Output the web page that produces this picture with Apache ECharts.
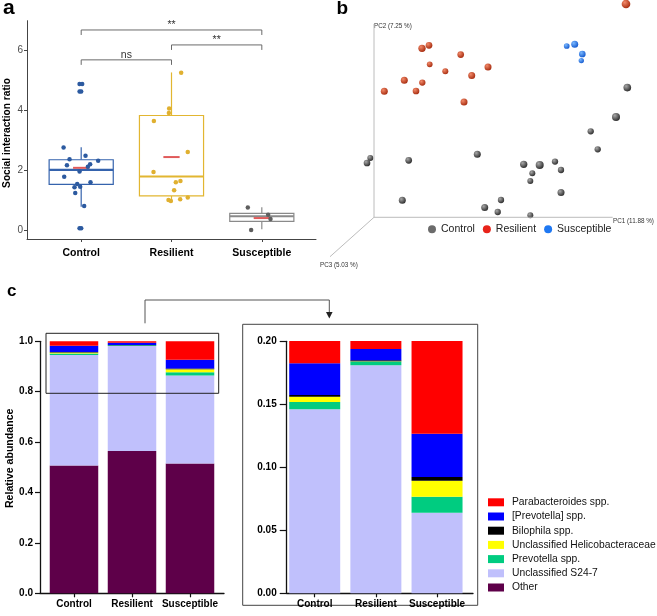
<!DOCTYPE html>
<html><head><meta charset="utf-8">
<script src="https://cdn.jsdelivr.net/npm/echarts@6/dist/echarts.min.js"></script>
<style>html,body{margin:0;padding:0;background:#fff}#c{width:657px;height:616px}</style>
</head><body><div id="c"></div>
<script>
// ---------- shared ----------
const groups = ['Control', 'Resilient', 'Susceptible'];

// ---------- panel a: social interaction ratio ----------
const boxMin    = [0.78, 1.00, 0.03];
const boxQ1     = [1.53, 1.14, 0.29];
const boxMedian = [2.01, 1.79, 0.46];
const boxQ3     = [2.35, 3.83, 0.56];
const boxMax    = [2.77, 5.27, 0.76];
const groupMean = [2.08, 2.44, 0.40];
// [jitter offset from group centre, value]
const controlPoints = [[-0.018,4.88],[0.011,4.88],[-0.018,4.63],[0,4.63],[-0.195,2.76],[-0.129,2.37],[0.048,2.48],[0.188,2.32],[-0.158,2.17],[0.099,2.20],[0.074,2.12],[-0.018,1.96],[-0.188,1.78],[-0.044,1.54],[-0.011,1.45],[-0.074,1.43],[0.103,1.60],[-0.066,1.24],[0.033,0.80],[-0.018,0.06],[0,0.06]];
const resilientPoints = [[0.107,5.26],[-0.026,4.06],[-0.029,3.91],[-0.195,3.65],[0.18,2.61],[-0.199,1.94],[0.048,1.60],[0.099,1.64],[0.029,1.33],[-0.033,1.00],[-0.007,0.97],[0.096,1.03],[0.18,1.09]];
const susceptiblePoints = [[-0.155,0.75],[0.07,0.51],[0.096,0.37],[-0.118,0.0]];
const comparisons = [[1,2,5.69,'ns'],[2,3,6.19,'**'],[1,3,6.69,'**']];
const yTicksA = [0, 2, 4, 6];

// ---------- panel b: PCoA (projected coordinates, [x, y, depth]) ----------
const pcaControl = [[253.3,129.7,.67],[242,100.3,.75],[216.7,86,.33],[223.7,68,.33],[103.3,63,.5],[149.7,53,.58],[165.7,52.3,.75],[181,55.7,.33],[187,47.3,.33],[158.3,44,.25],[156.3,36.3,.25],[187,24.7,.5],[127,17.3,.33],[110.7,9.7,.5],[123.7,5.3,.33],[156.3,2,.25],[34.7,57,.42],[-3.7,59.3,.25],[-7,54.3,.42],[28.3,17,.5]];
const pcaResilient = [[252,213.3,.92],[48,169,.58],[55,172,.42],[86.7,162.7,.42],[55.7,153,.18],[71.3,146,.25],[114,150.3,.5],[97.7,141.7,.5],[30.3,137,.5],[48.3,134.7,.33],[10.3,126,.5],[42,126.3,.42],[90,115.3,.5]];
const pcaSusceptible = [[192.7,171.3,.18],[200.7,173,.5],[208.3,163.3,.42],[207.3,156.7,.08]];
const pc1AxisEnd = [238.7, 0];
const pc2AxisEnd = [0, 193.3];
const pc3AxisEnd = [-44, -39.4];
const pcLabels = ['PC1 (11.88 %)', 'PC2 (7.25 %)', 'PC3 (5.03 %)'];

// ---------- panel c: relative abundance ----------
const taxa = ['Parabacteroides spp.', '[Prevotella] spp.', 'Bilophila spp.', 'Unclassified Helicobacteraceae', 'Prevotella spp.', 'Unclassified S24-7', 'Other'];
const parabacteroides = [0.0177, 0.0063, 0.0735];
const prevotellaBr    = [0.0252, 0.0090, 0.0344];
const bilophila       = [0.0013, 0.0008, 0.0029];
const helicobacter    = [0.0042, 0.0002, 0.0127];
const prevotella      = [0.0058, 0.0029, 0.0127];
const s247            = [0.439, 0.416, 0.349];
const other           = [0.507, 0.565, 0.515];
const zoomOffset = 0.8;

// ---------- styles ----------
const FONT = 'Liberation Sans, Arial, Helvetica, sans-serif';
const groupBoxColors = ['#3563ad', '#e2b631', '#8a8a8a'];
const groupPointColors = ['#2c5aa0', '#e0b030', '#5e5e5e'];
const taxaColors = ['#ff0000', '#0000ff', '#000000', '#ffff00', '#00cc80', '#c0c0fc', '#5e0049'];

function sphere(light, dark) {
  return {type: 'radial', x: 0.35, y: 0.32, r: 0.75, colorStops: [{offset: 0, color: light}, {offset: 1, color: dark}]};
}

// ---------- build panel c stacks (bottom -> top) ----------
const stackOrder = [other, s247, prevotella, helicobacter, bilophila, prevotellaBr, parabacteroides];
const stackNames = [taxa[6], taxa[5], taxa[4], taxa[3], taxa[2], taxa[1], taxa[0]];
const stackColors = [taxaColors[6], taxaColors[5], taxaColors[4], taxaColors[3], taxaColors[2], taxaColors[1], taxaColors[0]];
const cum = [0, 0, 0];
const stacked = stackOrder.map(arr => arr.map((v, i) => { const b = cum[i]; cum[i] += v; return [i + 1, b, cum[i]]; }));

function barRenderer(widthPx, offset) {
  return function (params, api) {
    const x = api.value(0);
    let b = api.value(1) - offset, t = api.value(2) - offset;
    if (t <= 0) return null;
    b = Math.max(b, 0);
    const p0 = api.coord([x, b]);
    const p1 = api.coord([x, t]);
    return {type: 'rect', shape: {x: p0[0] - widthPx / 2, y: p1[1], width: widthPx, height: p0[1] - p1[1]}, style: {fill: api.visual('color')}};
  };
}

const series = [];

// panel a boxes
series.push({
  type: 'custom', name: 'a-box', xAxisIndex: 0, yAxisIndex: 0, silent: true,
  data: groups.map((g, i) => [i + 1, boxMin[i], boxQ1[i], boxMedian[i], boxQ3[i], boxMax[i]]),
  encode: {x: 0, y: [1, 5]},
  renderItem(params, api) {
    const col = groupBoxColors[params.dataIndex];
    const x = api.value(0), hw = 0.355;
    const tl = api.coord([x - hw, api.value(4)]);
    const br = api.coord([x + hw, api.value(2)]);
    const med = api.coord([x, api.value(3)]);
    const lo = api.coord([x, api.value(1)]);
    const hi = api.coord([x, api.value(5)]);
    return {type: 'group', children: [
      {type: 'line', shape: {x1: hi[0], y1: hi[1], x2: hi[0], y2: tl[1]}, style: {stroke: col, lineWidth: 1.2}},
      {type: 'line', shape: {x1: lo[0], y1: br[1], x2: lo[0], y2: lo[1]}, style: {stroke: col, lineWidth: 1.2}},
      {type: 'rect', shape: {x: tl[0], y: tl[1], width: br[0] - tl[0], height: br[1] - tl[1]}, style: {fill: '#fff', stroke: col, lineWidth: 1.2}},
      {type: 'line', shape: {x1: tl[0], y1: med[1], x2: br[0], y2: med[1]}, style: {stroke: col, lineWidth: 2.2}}
    ]};
  }
});
// panel a means
series.push({
  type: 'custom', name: 'a-mean', xAxisIndex: 0, yAxisIndex: 0, silent: true,
  data: groups.map((g, i) => [i + 1, groupMean[i]]),
  renderItem(params, api) {
    const l = api.coord([api.value(0) - 0.09, api.value(1)]);
    const r = api.coord([api.value(0) + 0.09, api.value(1)]);
    return {type: 'line', shape: {x1: l[0], y1: l[1], x2: r[0], y2: r[1]}, style: {stroke: '#e05a5a', lineWidth: 2}};
  }
});
// panel a points
[controlPoints, resilientPoints, susceptiblePoints].forEach((pts, gi) => {
  series.push({
    type: 'scatter', name: 'a-' + groups[gi], xAxisIndex: 0, yAxisIndex: 0, silent: true,
    symbolSize: 4.5, itemStyle: {color: groupPointColors[gi], opacity: 1},
    data: pts.map(p => [gi + 1 + p[0], p[1]])
  });
});
// panel a significance brackets
series.push({
  type: 'custom', name: 'a-sig', xAxisIndex: 0, yAxisIndex: 0, silent: true,
  data: comparisons.map(c => [c[0], c[1], c[2]]),
  renderItem(params, api) {
    const a = api.coord([api.value(0), api.value(2)]);
    const b = api.coord([api.value(1), api.value(2)]);
    const d = 5;
    const lbl = comparisons[params.dataIndex][3];
    return {type: 'group', children: [
      {type: 'polyline', shape: {points: [[a[0], a[1] + d], [a[0], a[1]], [b[0], b[1]], [b[0], b[1] + d]]}, style: {stroke: '#6a6a6a', fill: 'none', lineWidth: 1}},
      {type: 'text', x: (a[0] + b[0]) / 2, y: a[1] + 0.5, style: {text: lbl, align: 'center', verticalAlign: 'bottom', fontSize: 10.5, fontFamily: FONT, fill: '#333'}}
    ]};
  }
});

// panel b axes
[pc1AxisEnd, pc2AxisEnd, pc3AxisEnd].forEach(end => {
  series.push({
    type: 'line', name: 'b-axis', xAxisIndex: 1, yAxisIndex: 1, silent: true, symbol: 'none',
    lineStyle: {color: '#b4b4b4', width: 0.9}, data: [[0, 0], end]
  });
});
// panel b points
const pcaSets = [pcaControl, pcaResilient, pcaSusceptible];
const pcaLight = ['#a8a8a8', '#f28a6a', '#7ab8ff'];
const pcaDark = ['#262626', '#a3270a', '#0f55cc'];
pcaSets.forEach((pts, gi) => {
  series.push({
    type: 'scatter', name: groups[gi], xAxisIndex: 1, yAxisIndex: 1, silent: true, clip: false,
    symbolSize: v => 5 + 4 * v[2],
    itemStyle: {color: sphere(pcaLight[gi], pcaDark[gi]), opacity: 1},
    data: pts
  });
});

// panel c bars, left (full scale) and right (zoomed top)
stacked.forEach((data, k) => {
  series.push({
    type: 'custom', name: stackNames[k], xAxisIndex: 2, yAxisIndex: 2, silent: true,
    itemStyle: {color: stackColors[k]}, data: data, encode: {x: 0, y: [1, 2]},
    renderItem: barRenderer(48.5, 0)
  });
  series.push({
    type: 'custom', name: stackNames[k], xAxisIndex: 3, yAxisIndex: 3, silent: true,
    itemStyle: {color: stackColors[k]}, data: data, encode: {x: 0},
    renderItem: barRenderer(51, zoomOffset)
  });
});

const catAxisLabel = (fs, margin) => ({customValues: [1, 2, 3], formatter: v => groups[Math.round(v) - 1], fontWeight: 'bold', fontSize: fs, color: '#000', margin: margin, fontFamily: FONT});

const option = {
  animation: false,
  backgroundColor: '#fff',
  textStyle: {fontFamily: FONT},
  grid: [
    {left: 27, top: 20.7, width: 289, height: 218.3},
    {left: 320, top: 0, width: 337, height: 270},
    {left: 40, top: 341.3, width: 184, height: 252},
    {left: 286.7, top: 341.3, width: 186.3, height: 252}
  ],
  xAxis: [
    {gridIndex: 0, type: 'value', min: 0.4, max: 3.6,
      axisLine: {show: true, onZero: false, lineStyle: {color: '#444', width: 1}},
      axisTick: {show: true, length: 3, customValues: [1, 2, 3], lineStyle: {color: '#444'}},
      axisLabel: catAxisLabel(10.5, 9), splitLine: {show: false}},
    {gridIndex: 1, type: 'value', min: -54, max: 283, show: false},
    {gridIndex: 2, type: 'value', min: 0.414, max: 3.586,
      axisLine: {show: true, onZero: false, lineStyle: {color: '#111', width: 1.3}},
      axisTick: {show: true, length: 4, customValues: [1, 2, 3], lineStyle: {color: '#111', width: 1.2}},
      axisLabel: catAxisLabel(10, 6), splitLine: {show: false}},
    {gridIndex: 3, type: 'value', min: 0.542, max: 3.588,
      axisLine: {show: true, onZero: false, lineStyle: {color: '#111', width: 1.3}},
      axisTick: {show: true, length: 4, customValues: [1, 2, 3], lineStyle: {color: '#111', width: 1.2}},
      axisLabel: catAxisLabel(10, 6), splitLine: {show: false}}
  ],
  yAxis: [
    {gridIndex: 0, type: 'value', min: -0.3, max: 7,
      axisLine: {show: true, onZero: false, lineStyle: {color: '#444', width: 1}},
      axisTick: {show: true, length: 3, customValues: yTicksA, lineStyle: {color: '#444'}},
      axisLabel: {customValues: yTicksA, fontSize: 10, color: '#4d4d4d', margin: 4},
      splitLine: {show: false}},
    {gridIndex: 1, type: 'value', min: -52.7, max: 217.3, show: false},
    {gridIndex: 2, type: 'value', min: 0, max: 1, interval: 0.2,
      axisLine: {show: true, onZero: false, lineStyle: {color: '#111', width: 1.3}},
      axisTick: {show: true, length: 5, lineStyle: {color: '#111', width: 1.2}},
      axisLabel: {formatter: v => v.toFixed(1), fontWeight: 'bold', fontSize: 10, color: '#000', margin: 7},
      splitLine: {show: false}},
    {gridIndex: 3, type: 'value', min: 0, max: 0.2, interval: 0.05,
      axisLine: {show: true, onZero: false, lineStyle: {color: '#111', width: 1.3}},
      axisTick: {show: true, length: 7, lineStyle: {color: '#111', width: 1.2}},
      axisLabel: {formatter: v => v.toFixed(2), fontWeight: 'bold', fontSize: 10, color: '#000', margin: 10},
      splitLine: {show: false}}
  ],
  legend: [
    {left: 428, top: 223.3, padding: 0, itemWidth: 8, itemHeight: 8, itemGap: 8, icon: 'circle', selectedMode: false,
      textStyle: {fontSize: 10.5, lineHeight: 12, color: '#222', fontFamily: FONT},
      data: [
        {name: 'Control', itemStyle: {color: '#6b6b6b'}},
        {name: 'Resilient', itemStyle: {color: '#e8231a'}},
        {name: 'Susceptible', itemStyle: {color: '#1f78f2'}}
      ]},
    {left: 488, top: 495.3, padding: 0, orient: 'vertical', itemWidth: 16, itemHeight: 8, itemGap: 0.2, icon: 'rect', selectedMode: false,
      textStyle: {fontSize: 10.3, lineHeight: 14, color: '#111', fontFamily: FONT, padding: [0, 0, 0, 3]},
      data: taxa.map((t, i) => ({name: t, itemStyle: {color: taxaColors[i]}}))}
  ],
  graphic: [
    {type: 'text', x: 3, y: 8.2, style: {text: 'a', font: 'bold 21px ' + FONT, fill: '#000', verticalAlign: 'middle'}},
    {type: 'text', x: 336.5, y: 9.2, style: {text: 'b', font: 'bold 19px ' + FONT, fill: '#000', verticalAlign: 'middle'}},
    {type: 'text', x: 7, y: 291, style: {text: 'c', font: 'bold 17px ' + FONT, fill: '#000', verticalAlign: 'middle'}},
    {type: 'text', x: 7, y: 133, rotation: Math.PI / 2, style: {text: 'Social interaction ratio', font: 'bold 10.2px ' + FONT, fill: '#000', align: 'center', verticalAlign: 'middle'}},
    {type: 'text', x: 10, y: 458.3, rotation: Math.PI / 2, style: {text: 'Relative abundance', font: 'bold 10.6px ' + FONT, fill: '#000', align: 'center', verticalAlign: 'middle'}},
    {type: 'text', x: 374, y: 26, style: {text: pcLabels[1], font: '6.3px ' + FONT, fill: '#333', verticalAlign: 'middle'}},
    {type: 'text', x: 613, y: 221.7, style: {text: pcLabels[0], font: '6.3px ' + FONT, fill: '#333', verticalAlign: 'middle'}},
    {type: 'text', x: 320, y: 265.6, style: {text: pcLabels[2], font: '6.3px ' + FONT, fill: '#333', verticalAlign: 'middle'}},
    {type: 'rect', shape: {x: 46, y: 333.3, width: 172.7, height: 60}, style: {fill: 'none', stroke: '#222', lineWidth: 1}, z: 100},
    {type: 'rect', shape: {x: 242.7, y: 324.3, width: 235, height: 281}, style: {fill: 'none', stroke: '#444', lineWidth: 1}},
    {type: 'polyline', shape: {points: [[145, 323.3], [145, 300], [329.3, 300], [329.3, 313]]}, style: {fill: 'none', stroke: '#555', lineWidth: 1}},
    {type: 'polygon', shape: {points: [[326, 312], [332.6, 312], [329.3, 318.5]]}, style: {fill: '#222'}}
  ],
  series: series
};

const chart = echarts.init(document.getElementById('c'), null, {renderer: 'canvas', width: 657, height: 616});
chart.setOption(option);
</script>
</body></html>
